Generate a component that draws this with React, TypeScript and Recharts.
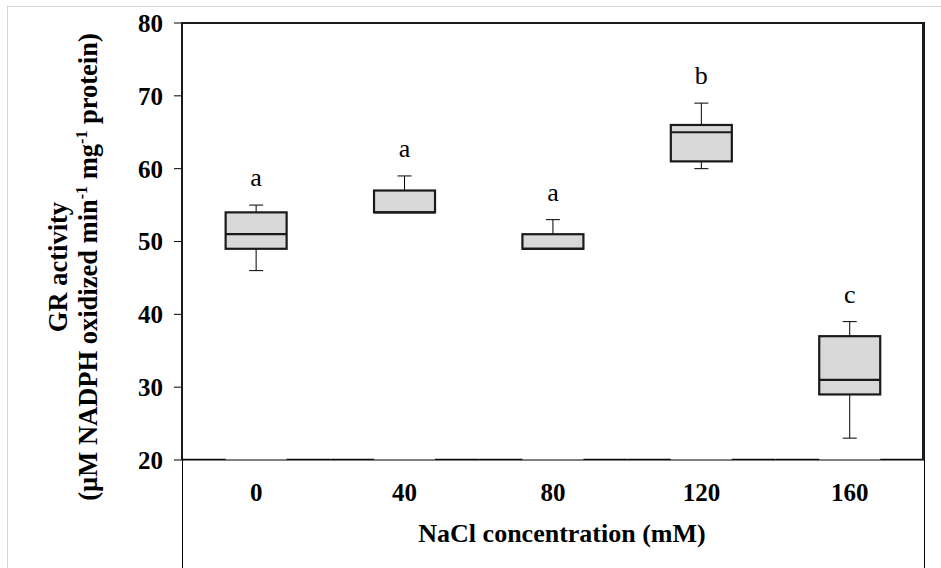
import React from 'react';
import { ComposedChart, Bar, XAxis, YAxis, Label } from 'recharts';

const categories = ['0', '40', '80', '120', '160'];
const whiskerLow = [46, 54, 49, 60, 23];
const q1 = [49, 54, 49, 61, 29];
const median = [51, 54, 49, 65, 31];
const q3 = [54, 57, 51, 66, 37];
const whiskerHigh = [55, 59, 53, 69, 39];
const groupLetters = ['a', 'a', 'a', 'b', 'c'];
const yTicks = [20, 30, 40, 50, 60, 70, 80];
const yDomain: [number, number] = [20, 80];

const FONT = "'Liberation Serif', 'Times New Roman', serif";
const GAP = 0.294;

const data = categories.map((c, i) => ({
  nacl: c,
  range: [whiskerLow[i], whiskerHigh[i]],
  low: whiskerLow[i],
  q1: q1[i],
  median: median[i],
  q3: q3[i],
  high: whiskerHigh[i],
  letter: groupLetters[i],
}));

const BoxShape = (props: any) => {
  const { x, y, width, height, payload } = props;
  const top = Math.min(y, y + height);
  const h = Math.abs(height);
  const { low, high } = payload;
  const py = (v: number) => top + ((high - v) * h) / (high - low);
  const cx = x + width / 2;
  const gap = (width * GAP) / (1 - 2 * GAP);
  const base = py(yDomain[0]);
  const capHalf = 7;
  return (
    <g>
      <line x1={x - gap} x2={x} y1={base} y2={base} stroke="#111" strokeWidth={2.6} />
      <line x1={x + width} x2={x + width + gap} y1={base} y2={base} stroke="#111" strokeWidth={2.6} />
      <line x1={cx} x2={cx} y1={py(payload.high)} y2={py(payload.q3)} stroke="#000" strokeWidth={1} />
      <line x1={cx} x2={cx} y1={py(payload.q1)} y2={py(payload.low)} stroke="#000" strokeWidth={1} />
      <line x1={cx - capHalf} x2={cx + capHalf} y1={py(payload.high)} y2={py(payload.high)} stroke="#000" strokeWidth={1} />
      <line x1={cx - capHalf} x2={cx + capHalf} y1={py(payload.low)} y2={py(payload.low)} stroke="#000" strokeWidth={1} />
      <rect
        x={x}
        y={py(payload.q3)}
        width={width}
        height={py(payload.q1) - py(payload.q3)}
        fill="#d9d9d9"
        stroke="#1a1a1a"
        strokeWidth={2.2}
      />
      <line x1={x} x2={x + width} y1={py(payload.median)} y2={py(payload.median)} stroke="#1a1a1a" strokeWidth={2.2} />
      <text
        x={cx}
        y={py(payload.high) - 19}
        textAnchor="middle"
        fontFamily={FONT}
        fontSize={26}
        fill="#000"
      >
        {payload.letter}
      </text>
    </g>
  );
};

const YTitle = (props: any) => {
  const vb = props.viewBox || { x: 122, y: 23, width: 60, height: 437 };
  const cy = vb.y + vb.height / 2 + 25.5;
  const b1 = vb.x - 55;
  const b2 = vb.x - 25;
  const common = {
    textAnchor: 'middle' as const,
    fontFamily: FONT,
    fontWeight: 'bold' as const,
    fontSize: 26.5,
    fill: '#000',
  };
  return (
    <g>
      <text x={b1} y={cy} transform={`rotate(-90, ${b1}, ${cy})`} {...common}>
        GR activity
      </text>
      <text x={b2} y={cy} transform={`rotate(-90, ${b2}, ${cy})`} {...common}>
        <tspan>(µM NADPH oxidized min</tspan>
        <tspan dy={-10} fontSize={16}>-1</tspan>
        <tspan dy={10}> mg</tspan>
        <tspan dy={-10} fontSize={16}>-1</tspan>
        <tspan dy={10}> protein)</tspan>
      </text>
    </g>
  );
};

export default function App() {
  const tickStyle = { fontSize: 25, fontWeight: 'bold', fill: '#000', fontFamily: FONT };
  return (
    <div style={{ position: 'relative', width: 941, height: 568, overflow: 'hidden', background: '#fff' }}>
      <style>{`body{margin:0;}`}</style>
      <div
        style={{
          position: 'absolute',
          left: 7,
          top: 6,
          width: 1000,
          height: 700,
          borderLeft: '1px solid #d6d6d6',
          borderTop: '1px solid #d6d6d6',
        }}
      />
      <div
        style={{
          position: 'absolute',
          left: 182,
          top: 460,
          width: 741,
          height: 200,
          borderLeft: '1px solid #000',
          borderRight: '1px solid #000',
        }}
      />
      <div style={{ position: 'absolute', left: 0, top: 0 }}>
        <ComposedChart
          width={941}
          height={568}
          data={data}
          margin={{ top: 23, right: 17, left: 122, bottom: 48 }}
          barCategoryGap={`${GAP * 100}%`}
        >
          <XAxis
            dataKey="nacl"
            height={60}
            tickLine={false}
            tickSize={0}
            tickMargin={23}
            tick={tickStyle}
            axisLine={{ stroke: '#000', strokeWidth: 1 }}
          >
            <Label
              value="NaCl concentration (mM)"
              position="bottom"
              offset={4}
              dx={9}
              style={{ fontSize: 26, fontWeight: 'bold', fill: '#000', fontFamily: FONT }}
            />
          </XAxis>
          <YAxis
            domain={yDomain}
            ticks={yTicks}
            width={60}
            tickSize={8}
            tickMargin={11}
            tick={tickStyle}
            tickLine={{ stroke: '#000', strokeWidth: 1 }}
            axisLine={false}
            allowDataOverflow
          >
            <Label content={<YTitle />} />
          </YAxis>
          <Bar dataKey="range" shape={<BoxShape />} isAnimationActive={false} />
        </ComposedChart>
      </div>
      <div
        style={{
          position: 'absolute',
          left: 181,
          top: 22,
          width: 744,
          height: 438,
          boxSizing: 'border-box',
          borderTop: '2px solid #1a1a1a',
          borderLeft: '2px solid #1a1a1a',
          borderRight: '3px solid #1a1a1a',
          pointerEvents: 'none',
        }}
      />
    </div>
  );
}
